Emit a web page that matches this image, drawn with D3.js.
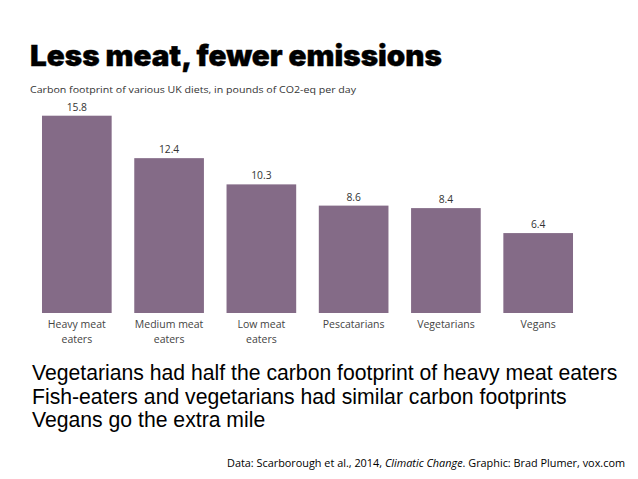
<!DOCTYPE html>
<html><head><meta charset="utf-8">
<script src="https://cdn.jsdelivr.net/npm/d3@7"></script>
<style>html,body{margin:0;padding:0;background:#fff;}</style>
</head><body>
<svg id="c" width="638" height="479"></svg>
<script>
const categories = [["Heavy meat","eaters"],["Medium meat","eaters"],["Low meat","eaters"],["Pescatarians"],["Vegetarians"],["Vegans"]];
const values = [15.8, 12.4, 10.3, 8.6, 8.4, 6.4];
const valueLabels = ["15.8","12.4","10.3","8.6","8.4","6.4"];
const title = "Less meat, fewer emissions";
const subtitle = "Carbon footprint of various UK diets, in pounds of CO2-eq per day";
const notes = ["Vegetarians had half the carbon footprint of heavy meat eaters",
               "Fish-eaters and vegetarians had similar carbon footprints",
               "Vegans go the extra mile"];
const source = ["Data: Scarborough et al., 2014, ", "Climatic Change", ". Graphic: Brad Plumer, vox.com"];

const svg = d3.select("#c");
const chartFont = "'Open Sans', 'DejaVu Sans', sans-serif";

svg.append("text").attr("x",30).attr("y",66)
  .attr("font-family","Inter, 'Liberation Sans', sans-serif").attr("font-weight",900)
  .attr("font-size",29).attr("fill","#000")
  .attr("stroke","#000").attr("stroke-width",0.4)
  .attr("textLength",412).attr("lengthAdjust","spacingAndGlyphs")
  .text(title);

svg.append("text").attr("x",30).attr("y",93)
  .attr("font-family",chartFont).attr("font-size",9.3).attr("fill","#333")
  .attr("textLength",326).attr("lengthAdjust","spacingAndGlyphs")
  .text(subtitle);

const x = d3.scaleBand().domain(d3.range(values.length)).range([18, 597]).paddingInner(0.245).paddingOuter(0.26);
const y = d3.scaleLinear().domain([0, 15.8]).range([313, 115.7]);

svg.selectAll("rect.bar").data(values).join("rect").attr("class","bar")
  .attr("x",(d,i)=>x(i)).attr("width",x.bandwidth())
  .attr("y",d=>y(d)).attr("height",d=>y(0)-y(d))
  .attr("fill","#846b87");

svg.selectAll("text.val").data(values).join("text").attr("class","val")
  .attr("x",(d,i)=>x(i)+x.bandwidth()/2).attr("y",d=>y(d)-5)
  .attr("text-anchor","middle").attr("font-family",chartFont).attr("font-size",10.3).attr("fill","#333")
  .text((d,i)=>valueLabels[i]);

const cat = svg.selectAll("text.cat").data(categories).join("text").attr("class","cat")
  .attr("text-anchor","middle").attr("font-family",chartFont).attr("font-size",10.5).attr("fill","#444");
cat.each(function(lines,i){
  d3.select(this).selectAll("tspan").data(lines).join("tspan")
    .attr("x",x(i)+x.bandwidth()/2).attr("y",(l,j)=>328+j*15).text(l=>l);
});

svg.selectAll("text.note").data(notes).join("text").attr("class","note")
  .attr("x",32).attr("y",(d,i)=>380+i*23.5)
  .attr("font-family","'Liberation Sans', Arial, sans-serif").attr("font-size",21.2).attr("fill","#000")
  .text(d=>d);

const s = svg.append("text").attr("x",227).attr("y",467)
  .attr("font-family","'Open Sans', 'Liberation Sans', sans-serif").attr("font-size",10.5).attr("fill","#000")
  .attr("textLength",398).attr("lengthAdjust","spacingAndGlyphs");
s.selectAll("tspan").data(source).join("tspan")
  .attr("font-style",(d,i)=>i===1?"italic":"normal").text(d=>d);
</script>
</body></html>
